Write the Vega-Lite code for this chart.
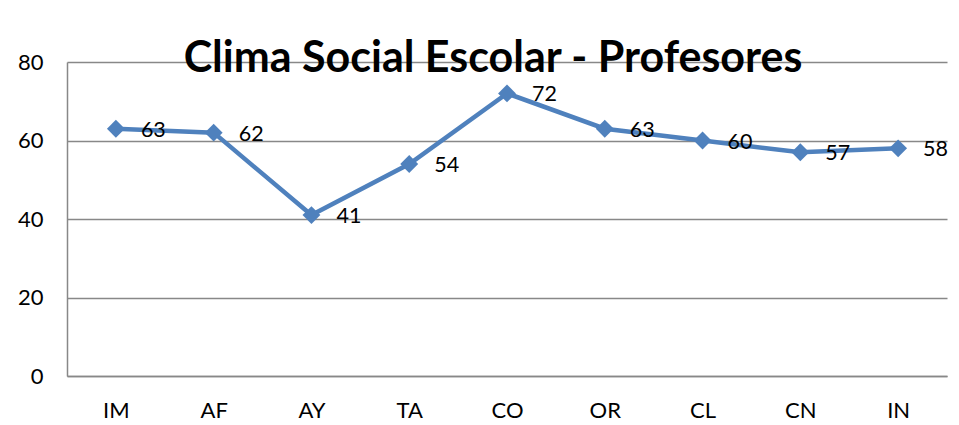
{
  "$schema": "https://vega.github.io/schema/vega-lite/v6.json",
  "width": 880,
  "height": 314,
  "autosize": {"type": "none"},
  "padding": {"left": 67, "top": 62, "right": 12, "bottom": 49},
  "background": "white",
  "title": {
    "text": "Clima Social Escolar - Profesores",
    "font": "Lato",
    "fontSize": 43,
    "fontWeight": "bold",
    "color": "#000000",
    "anchor": "middle",
    "baseline": "alphabetic",
    "offset": -10,
    "dx": -14,
    "dy": 54
  },
  "data": {
    "values": [
      {"dim": "IM", "value": 63},
      {"dim": "AF", "value": 62},
      {"dim": "AY", "value": 41},
      {"dim": "TA", "value": 54},
      {"dim": "CO", "value": 72},
      {"dim": "OR", "value": 63},
      {"dim": "CL", "value": 60},
      {"dim": "CN", "value": 57},
      {"dim": "IN", "value": 58}
    ]
  },
  "encoding": {
    "x": {
      "field": "dim",
      "type": "nominal",
      "sort": null,
      "scale": {"type": "point", "padding": 0.5},
      "axis": {
        "title": null,
        "labelAngle": 0,
        "labelFont": "Lato",
        "labelFontSize": 22,
        "labelColor": "#000000",
        "labelPadding": 24,
        "ticks": false,
        "domainColor": "#888888",
        "domainWidth": 1.5,
        "grid": false
      }
    },
    "y": {
      "field": "value",
      "type": "quantitative",
      "scale": {"domain": [0, 80], "nice": false},
      "axis": {
        "title": null,
        "values": [0, 20, 40, 60, 80],
        "labelFont": "Lato",
        "labelFontSize": 22,
        "labelColor": "#000000",
        "labelPadding": 24,
        "ticks": false,
        "domainColor": "#888888",
        "domainWidth": 1.5,
        "grid": true,
        "gridColor": "#888888",
        "gridWidth": 1.5
      }
    }
  },
  "layer": [
    {
      "mark": {"type": "line", "color": "#4F81BD", "strokeWidth": 4.5},
      "encoding": {}
    },
    {
      "mark": {"type": "point", "shape": "diamond", "filled": true, "color": "#4F81BD", "size": 320, "opacity": 1},
      "encoding": {}
    },
    {
      "mark": {"type": "text", "align": "left", "baseline": "middle", "dx": 25, "dy": 2, "font": "Lato", "fontSize": 21.5, "color": "#000000"},
      "encoding": {"text": {"field": "value", "type": "quantitative"}}
    }
  ],
  "config": {"view": {"stroke": null}}
}
